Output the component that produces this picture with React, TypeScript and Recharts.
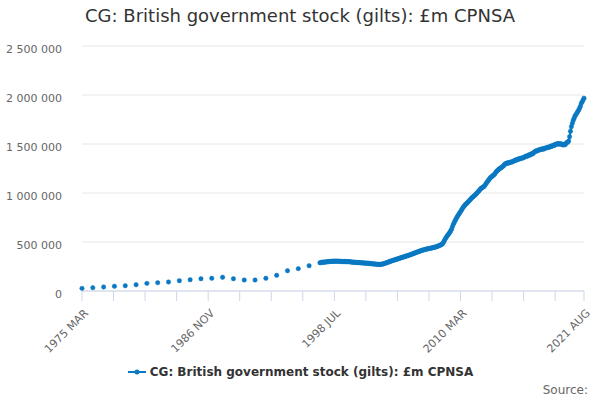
import { LineChart, Line, XAxis, YAxis, CartesianGrid } from 'recharts'

// month index 0 = 1975 MAR
const annualValues = [
  27, 34, 41, 48, 54, 64, 78, 85, 92, 105, 115, 125, 130, 140, 125, 112, 112, 130, 160, 207,
  228, 258,
]

// monthly values from 1997 MAR to 2021 AUG (£bn, thousand £m)
const monthly1997to2002 = [
  288, 290, 292, 293, 295, 294, 296, 297, 298, 299,
  300, 301, 302, 303, 302, 304, 305, 304, 303, 304, 305, 303,
  302, 303, 301, 300, 301, 302, 300, 299, 300, 301, 299, 298,
  297, 296, 295, 294, 293, 294, 292, 291, 290, 291, 289, 288,
  288, 287, 286, 285, 286, 284, 283, 284, 282, 281, 280, 279,
  278, 277, 276, 275, 274, 273, 272, 271, 272, 271, 273, 274,
]
const monthly2003to2008 = [
  276, 279, 282, 285, 289, 292, 296, 299, 302, 306, 309, 312,
  315, 318, 321, 324, 327, 330, 333, 336, 339, 342, 345, 348,
  351, 354, 357, 360, 363, 366, 369, 373, 376, 380, 383, 387,
  390, 394, 397, 401, 404, 408, 411, 414, 417, 420, 422, 425,
  427, 429, 431, 433, 435, 437, 439, 441, 444, 446, 448, 451,
  455, 458, 462, 466, 470, 474, 482, 495, 512, 530, 545, 560,
]
const monthly2009to2014 = [
  572, 585, 598, 612, 630, 655, 680, 700, 717, 735, 752, 768,
  782, 797, 810, 825, 840, 855, 866, 878, 887, 895, 905, 915,
  925, 935, 945, 955, 962, 970, 978, 988, 998, 1008, 1018, 1028,
  1040, 1048, 1055, 1060, 1066, 1078, 1092, 1105, 1118, 1130, 1142, 1155,
  1162, 1170, 1178, 1185, 1195, 1210, 1220, 1230, 1238, 1245, 1252, 1258,
  1265, 1272, 1280, 1295, 1298, 1302, 1308, 1304, 1310, 1315, 1312, 1318,
]
const monthly2015to2021 = [
  1322, 1326, 1330, 1337, 1335, 1342, 1348, 1345, 1352, 1356, 1353, 1360,
  1362, 1367, 1372, 1378, 1375, 1382, 1390, 1386, 1395, 1402, 1398, 1410,
  1418, 1425, 1432, 1428, 1435, 1440, 1445, 1441, 1448, 1452, 1447, 1455,
  1458, 1460, 1462, 1468, 1465, 1472, 1478, 1475, 1482, 1488, 1485, 1495,
  1500, 1498, 1503, 1505, 1497, 1502, 1500, 1495, 1490, 1498, 1492, 1505,
  1515, 1520, 1530, 1575, 1630, 1677, 1710, 1740, 1762, 1785, 1800, 1815,
  1830, 1845, 1865, 1885, 1915, 1930, 1950, 1968,
]

const monthlyStart = 264 // 1997 MAR
const lastMonth = 557 // 2021 AUG

const xTicks = [0, 35, 70, 105, 140, 175, 210, 245, 280, 315, 350, 385, 420, 455, 490, 525, 557]
const xLabels = ['1975 MAR', '1986 NOV', '1998 JUL', '2010 MAR', '2021 AUG']
const yTicks = [0, 500000, 1000000, 1500000, 2000000, 2500000]

const seriesName = 'CG: British government stock (gilts): £m CPNSA'
const blue = '#0a78c2'

const monthly = [...monthly1997to2002, ...monthly2003to2008, ...monthly2009to2014, ...monthly2015to2021]

const data = Array.from({ length: lastMonth + 1 }, (_, m) => {
  let v: number | null = null
  if (m < monthlyStart && m % 12 === 0) v = annualValues[m / 12] ?? null
  if (m >= monthlyStart) v = monthly[m - monthlyStart] ?? null
  return { m, value: v === null ? null : v * 1000 }
})

const fmt = (v: number) => String(v).replace(/\B(?=(\d{3})+(?!\d))/g, ' ')

const XTick = ({ x, y, index }: any) => {
  const label = index % 4 === 0 ? xLabels[index / 4] : ''
  if (!label) return null
  return (
    <g transform={`translate(${x + 4},${y + 8})`}>
      <text textAnchor="end" fill="#666" fontSize={11} transform="rotate(-45)" dy={4}>
        {label}
      </text>
    </g>
  )
}

export default function App() {
  return (
    <div style={{ position: 'absolute', left: 0, top: 0, width: 600, height: 400, fontFamily: 'DejaVu Sans', background: '#fff' }}>
      <div style={{ position: 'absolute', top: 5, width: 600, textAlign: 'center', fontSize: 18, color: '#333' }}>
        {seriesName}
      </div>
      <LineChart width={600} height={400} data={data} margin={{ top: 46, right: 16, bottom: 49, left: 0 }}>
        <CartesianGrid vertical={false} stroke="#e6e6e6" />
        <XAxis
          dataKey="m"
          type="number"
          domain={[0, lastMonth]}
          ticks={xTicks}
          interval={0}
          height={60}
          stroke="#ccd6eb"
          tickSize={10}
          tick={<XTick />}
        />
        <YAxis
          domain={[0, 2500000]}
          ticks={yTicks}
          width={82}
          axisLine={false}
          tickLine={false}
          tickMargin={14}
          tick={{ fill: '#666', fontSize: 11, dy: 3 }}
          tickFormatter={fmt}
        />
        <Line
          dataKey="value"
          stroke={blue}
          strokeWidth={2}
          dot={{ r: 2.2, fill: blue, stroke: blue, strokeWidth: 0.5 }}
          connectNulls={false}
          isAnimationActive={false}
        />
      </LineChart>
      <div style={{ position: 'absolute', top: 365, width: 600, display: 'flex', justifyContent: 'center', alignItems: 'center', fontSize: 12, fontWeight: 'bold', color: '#333' }}>
        <svg width={20} height={10} style={{ marginRight: 3 }}>
          <line x1={1} y1={5} x2={19} y2={5} stroke={blue} strokeWidth={2} />
          <circle cx={10} cy={5} r={2.5} fill={blue} />
        </svg>
        {seriesName}
      </div>
      <div style={{ position: 'absolute', top: 383, right: 12, fontSize: 12, color: '#666' }}>Source:</div>
    </div>
  )
}
